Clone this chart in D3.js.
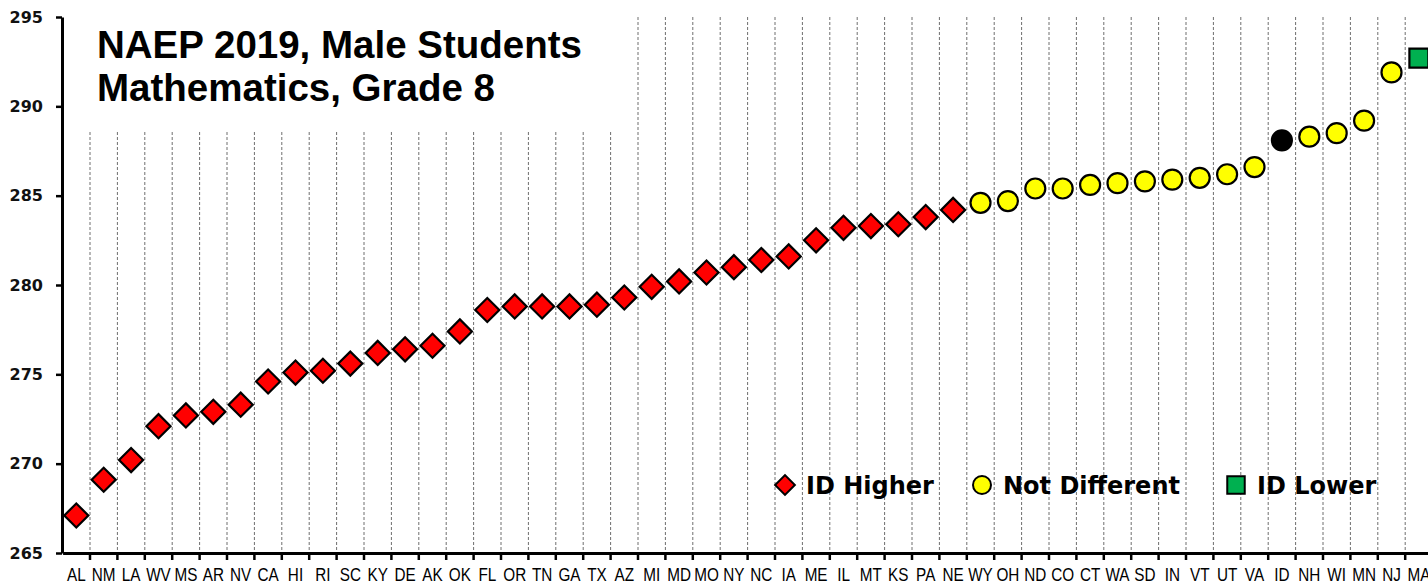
<!DOCTYPE html>
<html>
<head>
<meta charset="utf-8">
<script src="https://cdn.jsdelivr.net/npm/d3@7"></script>
<style>
  html, body { margin: 0; padding: 0; background: #fff; }
  svg { display: block; }
</style>
</head>
<body>
<svg id="chart" width="1428" height="586"></svg>
<script>
// ---- Data ----
const states = ["AL","NM","LA","WV","MS","AR","NV","CA","HI","RI","SC","KY","DE","AK","OK","FL","OR","TN","GA","TX","AZ","MI","MD","MO","NY","NC","IA","ME","IL","MT","KS","PA","NE","WY","OH","ND","CO","CT","WA","SD","IN","VT","UT","VA","ID","NH","WI","MN","NJ","MA"];
const scores = [267.1,269.1,270.2,272.1,272.7,272.9,273.3,274.6,275.1,275.2,275.6,276.2,276.4,276.6,277.4,278.6,278.8,278.8,278.8,278.9,279.3,279.9,280.2,280.7,281.0,281.4,281.6,282.5,283.2,283.3,283.4,283.8,284.2,284.6,284.7,285.4,285.4,285.6,285.7,285.8,285.9,286.0,286.2,286.6,288.1,288.3,288.5,289.2,291.9,292.7];
// H = ID higher, N = not different, F = focal state (ID), L = ID lower
const groups = ["H","H","H","H","H","H","H","H","H","H","H","H","H","H","H","H","H","H","H","H","H","H","H","H","H","H","H","H","H","H","H","H","H","N","N","N","N","N","N","N","N","N","N","N","F","N","N","N","N","L"];
const yTicks = [265, 270, 275, 280, 285, 290, 295];
const titleLines = ["NAEP 2019, Male Students", "Mathematics, Grade 8"];
const legendItems = [
  {key: "H", label: "ID Higher"},
  {key: "N", label: "Not Different"},
  {key: "L", label: "ID Lower"}
];

// ---- Layout ----
const svg = d3.select("#chart");
const x = d3.scaleBand().domain(states).range([62.6, 1432.6]).paddingInner(0).paddingOuter(0);
const y = d3.scaleLinear().domain([265, 295]).range([553, 17]);
const fills = {H: "#FF0000", N: "#FFFF00", F: "#000000", L: "#00B050"};

// gridlines at band boundaries
const bounds = states.slice(1).map(s => x(s));
svg.append("g").selectAll("line").data(bounds).join("line")
  .attr("x1", d => d).attr("x2", d => d)
  .attr("y1", 17).attr("y2", 553)
  .attr("stroke", "#6e6e6e").attr("stroke-width", 1)
  .attr("stroke-dasharray", "3,2");

// title box covering gridlines
svg.append("rect").attr("x", 64).attr("y", 10).attr("width", 558).attr("height", 120).attr("fill", "#fff");
svg.append("g").selectAll("text").data(titleLines).join("text")
  .attr("x", 97).attr("y", (d, i) => 58 + i * 43)
  .attr("font-family", "'Liberation Sans', Arial, sans-serif")
  .attr("font-weight", "bold").attr("font-size", 38.5)
  .attr("fill", "#000")
  .text(d => d);

// x axis (labels)
const gx = svg.append("g").attr("transform", "translate(0,553)")
  .call(d3.axisBottom(x).tickSize(0).tickSizeOuter(0).tickPadding(15));
gx.select(".domain").attr("stroke", "#000").attr("stroke-width", 3);
gx.selectAll("text")
  .attr("font-family", "'Liberation Sans', Arial, sans-serif")
  .attr("font-size", 18).attr("fill", "#000")
  .attr("transform", "scale(0.85,1)");
// x ticks at band boundaries
gx.append("g").selectAll("line").data(bounds).join("line")
  .attr("x1", d => d).attr("x2", d => d).attr("y1", 0).attr("y2", 7)
  .attr("stroke", "#000").attr("stroke-width", 2.5);

// y axis
const gy = svg.append("g").attr("transform", "translate(62,0)")
  .call(d3.axisLeft(y).tickValues(yTicks).tickSize(6).tickSizeOuter(0).tickPadding(13));
gy.select(".domain").attr("stroke", "#000").attr("stroke-width", 3);
gy.selectAll(".tick line").attr("stroke", "#000").attr("stroke-width", 2.5);
gy.selectAll("text")
  .attr("font-family", "'DejaVu Sans', Verdana, sans-serif")
  .attr("font-weight", "bold").attr("font-size", 16).attr("fill", "#111");

// markers
function markerPath(g, scale) {
  scale = scale || 1;
  if (g === "H") return d3.symbol(d3.symbolSquare, 290 * scale * scale)();
  if (g === "L") return d3.symbol(d3.symbolSquare, 361 * scale * scale)();
  return d3.symbol(d3.symbolCircle, Math.PI * 100 * scale * scale)();
}
const data = states.map((s, i) => ({s, v: scores[i], g: groups[i]}));
svg.append("g").selectAll("path").data(data).join("path")
  .attr("transform", d => `translate(${x(d.s) + x.bandwidth() / 2},${y(d.v)})` + (d.g === "H" ? " rotate(45)" : ""))
  .attr("d", d => markerPath(d.g))
  .attr("fill", d => fills[d.g])
  .attr("stroke", "#000").attr("stroke-width", 2.2);

// legend
const legendPos = [{mx: 785, tx: 806}, {mx: 982, tx: 1003}, {mx: 1236, tx: 1257}];
const lg = svg.append("g");
legendItems.forEach((it, i) => {
  const p = legendPos[i];
  lg.append("path")
    .attr("transform", `translate(${p.mx},485)` + (it.key === "H" ? " rotate(45)" : ""))
    .attr("d", markerPath(it.key, it.key === "H" ? 0.82 : (it.key === "L" ? 0.92 : 0.9)))
    .attr("fill", fills[it.key]).attr("stroke", "#000").attr("stroke-width", 2);
  lg.append("text").attr("x", p.tx).attr("y", 494)
    .attr("font-family", "'DejaVu Sans', Verdana, sans-serif")
    .attr("font-weight", "bold").attr("font-size", 24).attr("fill", "#000")
    .text(it.label);
});
</script>
</body>
</html>
